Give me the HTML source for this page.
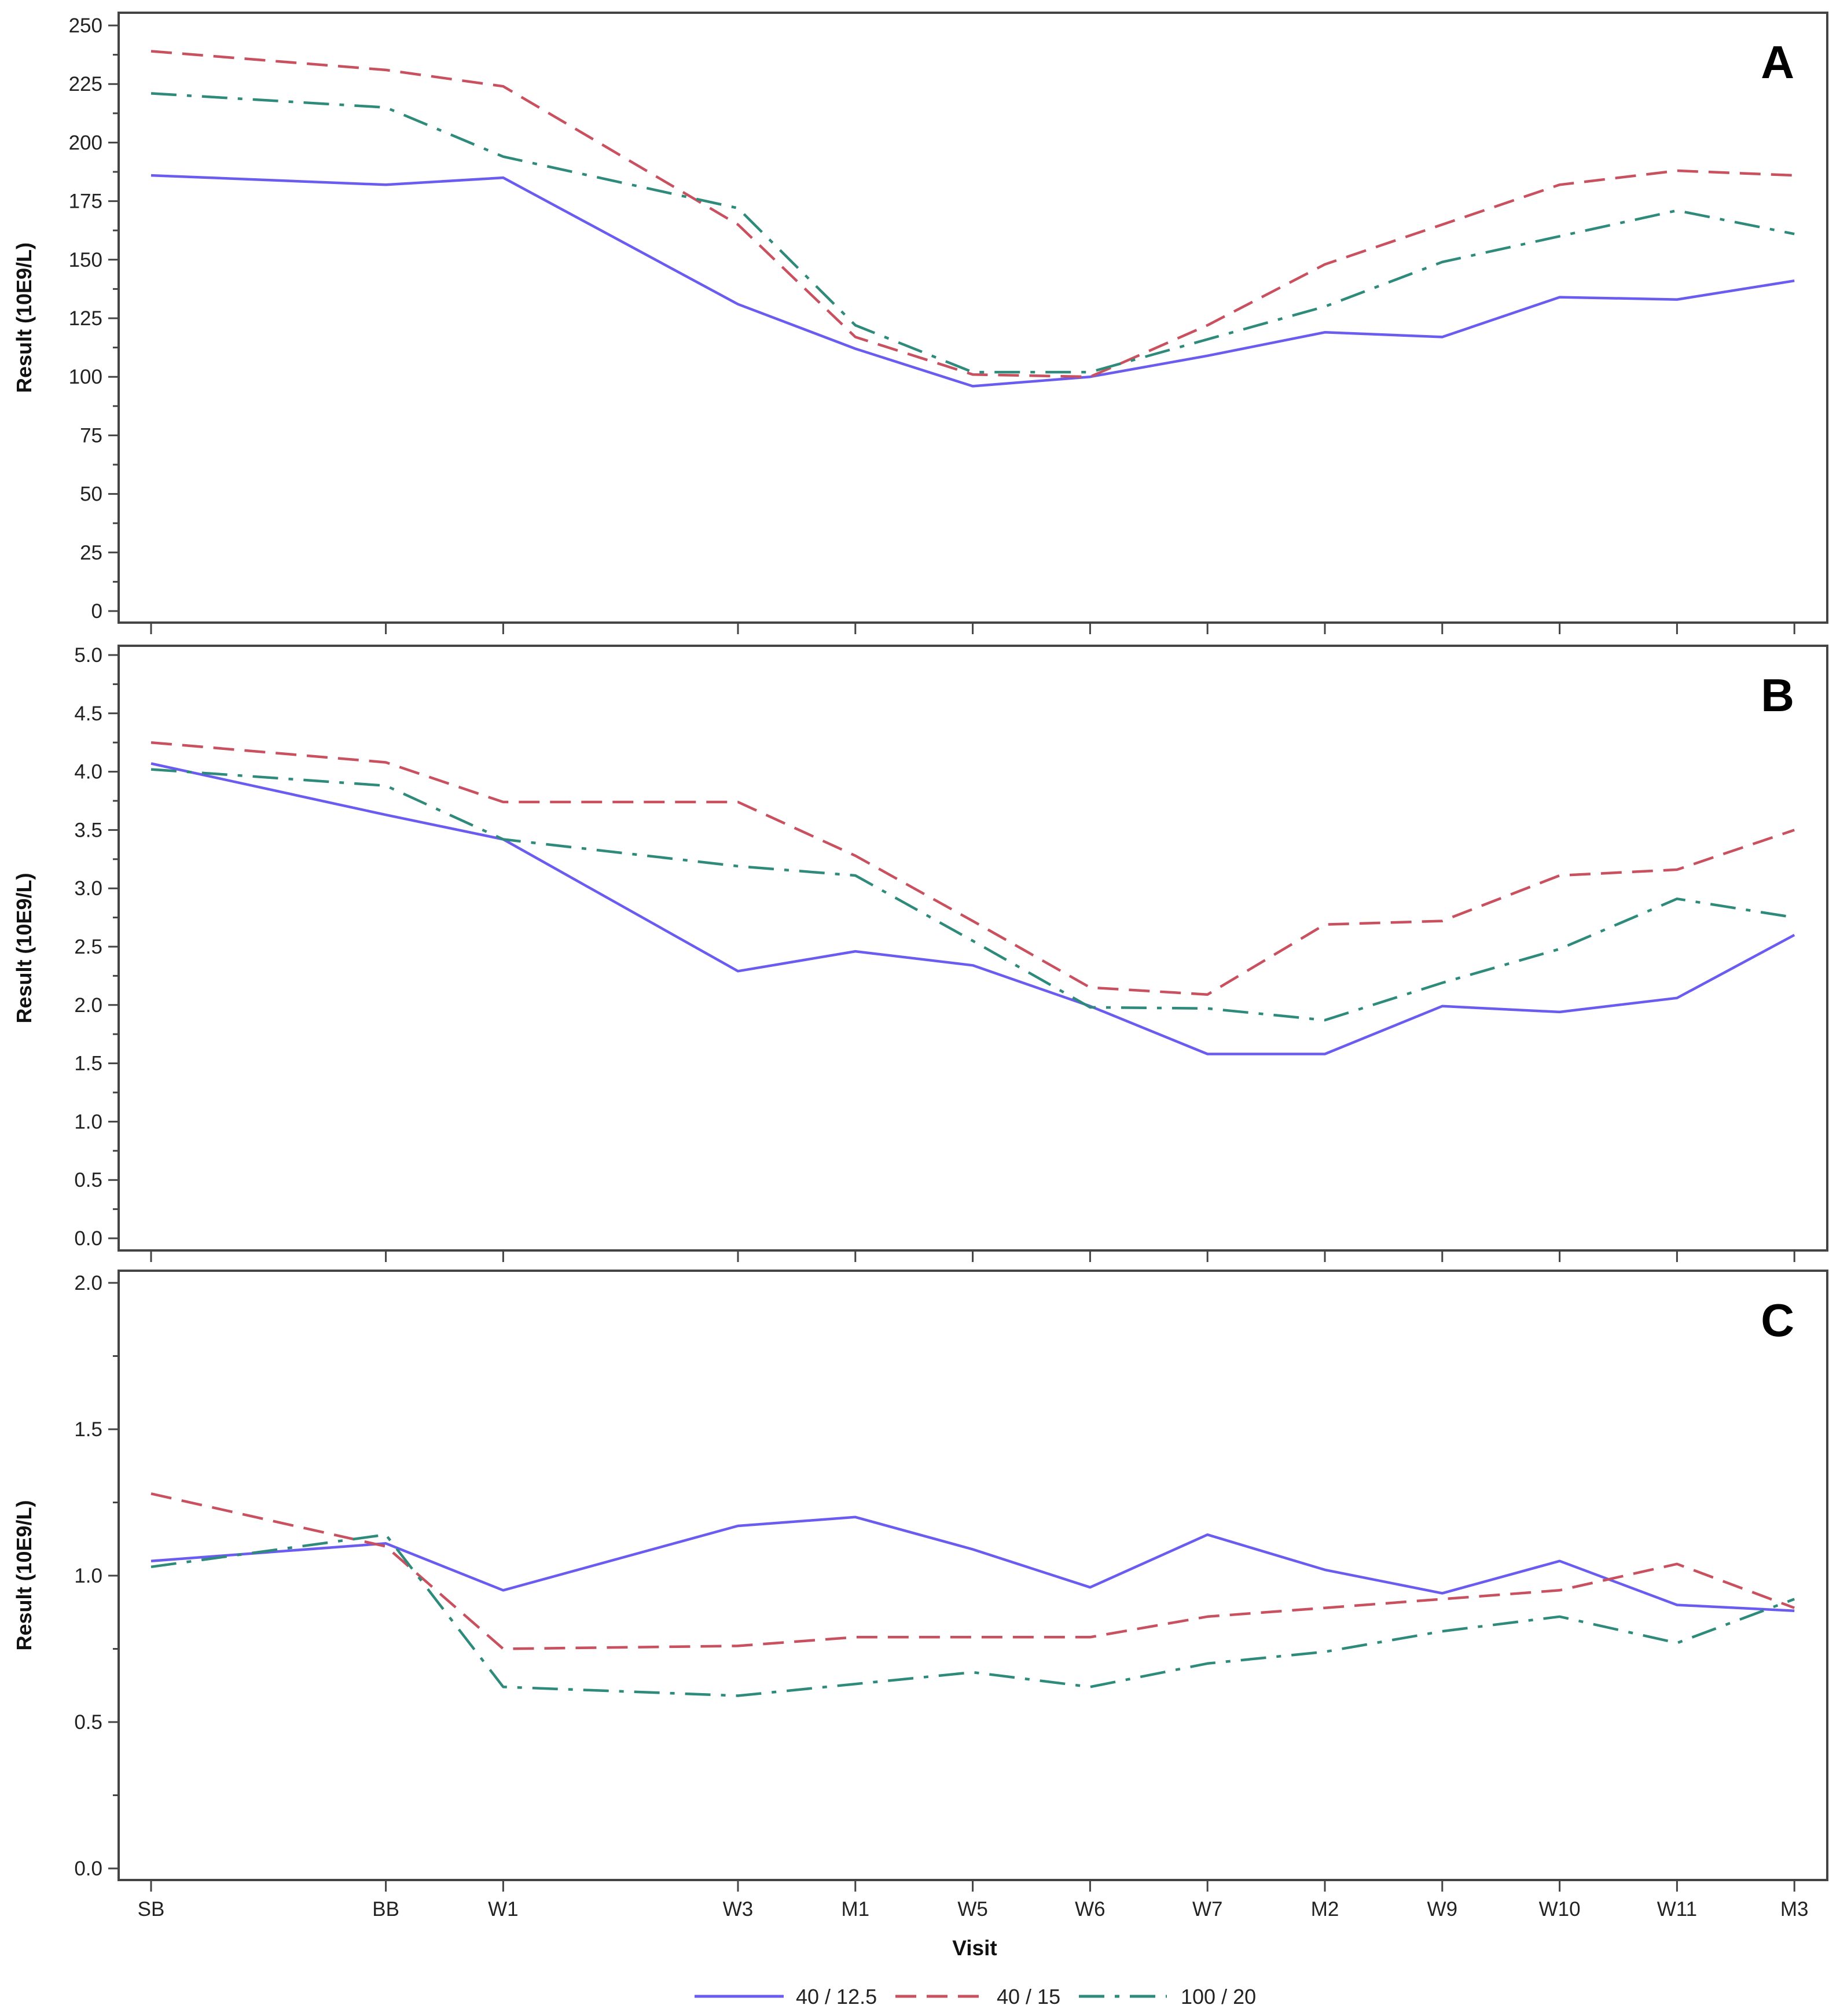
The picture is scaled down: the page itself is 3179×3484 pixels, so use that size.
<!DOCTYPE html>
<html><head><meta charset="utf-8"><style>
html,body{margin:0;padding:0;background:#fff;}
svg{display:block;font-family:"Liberation Sans",Arial,sans-serif;}
</style></head><body>
<svg id="chart" width="3179" height="3484" viewBox="0 0 3179 3484" xmlns="http://www.w3.org/2000/svg"></svg>
<script>
const categories = ["SB","BB","W1","W3","M1","W5","W6","W7","M2","W9","W10","W11","M3"];
const catPos = [0,2,3,5,6,7,8,9,10,11,12,13,14];
const seriesNames = ["40 / 12.5","40 / 15","100 / 20"];
const aBlue = [186,182,185,131,112,96,100,109,119,117,134,133,141];
const aRed = [239,231,224,165,117,101,100,122,148,165,182,188,186];
const aGreen = [221,215,194,172,122,102,102,116,130,149,160,171,161];
const bBlue = [4.07,3.63,3.42,2.29,2.46,2.34,1.99,1.58,1.58,1.99,1.94,2.06,2.60];
const bRed = [4.25,4.08,3.74,3.74,3.28,2.72,2.15,2.09,2.69,2.72,3.11,3.16,3.50];
const bGreen = [4.02,3.88,3.42,3.19,3.11,2.55,1.98,1.97,1.87,2.19,2.48,2.91,2.75];
const cBlue = [1.05,1.11,0.95,1.17,1.20,1.09,0.96,1.14,1.02,0.94,1.05,0.90,0.88];
const cRed = [1.28,1.10,0.75,0.76,0.79,0.79,0.79,0.86,0.89,0.92,0.95,1.04,0.89];
const cGreen = [1.03,1.14,0.62,0.59,0.63,0.67,0.62,0.70,0.74,0.81,0.86,0.77,0.92];
const aTicks = ["0","25","50","75","100","125","150","175","200","225","250"];
const bTicks = ["0.0","0.5","1.0","1.5","2.0","2.5","3.0","3.5","4.0","4.5","5.0"];
const cTicks = ["0.0","0.5","1.0","1.5","2.0"];

const NS="http://www.w3.org/2000/svg";
const svg=document.getElementById('chart');
function mk(tag,attrs,parent){const e=document.createElementNS(NS,tag);for(const k in attrs)e.setAttribute(k,attrs[k]);(parent||svg).appendChild(e);return e;}
const X0=261, XU=202.8, L=205, R=3157;
const xs=i=>X0+catPos[i]*XU;
const colors=["#6a5cf0","#c9505f","#2e8a7b"];
const dashes=["none","36 18","44 18 8 18"];

const panels=[
 {id:"a",letter:"A",top:22,bot:1076,y0:1056,yMax:44,max:250,ticks:aTicks,minor:12.5,step:25,data:[aBlue,aRed,aGreen]},
 {id:"b",letter:"B",top:1116,bot:2161,y0:2140,yMax:1132,max:5,ticks:bTicks,minor:0.25,step:0.5,data:[bBlue,bRed,bGreen]},
 {id:"c",letter:"C",top:2196,bot:3249,y0:3229,yMax:2217,max:2,ticks:cTicks,minor:0.25,step:0.5,data:[cBlue,cRed,cGreen]}
];
panels.forEach(p=>{
  const g=mk('g',{});
  
  
  const ys=v=>p.y0-(v/p.max)*(p.y0-p.yMax);
  const box=mk('rect',{x:L,y:p.top,width:R-L,height:p.bot-p.top,fill:'none',stroke:'#444',"stroke-width":4},g);
  
  
  p.ticks.forEach(t=>{
    const v=parseFloat(t), y=ys(v);
    const tk=mk('line',{x1:L-18,x2:L,y1:y,y2:y,stroke:'#444',"stroke-width":3},g);
    
    
    const tx=mk('text',{x:L-28,y:y+12,"text-anchor":"end","font-size":35,fill:'#222'},g);
    tx.textContent=t;
    
    
  });
  for(let v=p.minor; v<p.max; v+=p.step){
    const y=ys(v);
    const mt=mk('line',{x1:L-10,x2:L,y1:y,y2:y,stroke:'#444',"stroke-width":3},g);
    
    
  }
  categories.forEach((c,i)=>{
    const xt=mk('line',{x1:xs(i),x2:xs(i),y1:p.bot,y2:p.bot+20,stroke:'#444',"stroke-width":3},g);
    
    
  });
  const yt=mk('text',{x:0,y:0,transform:`translate(54,${(p.top+p.bot)/2}) rotate(-90)`,"text-anchor":"middle","font-size":36,"font-weight":"bold",fill:'#111'},g);
  yt.textContent="Result (10E9/L)";
  
  
  const lt=mk('text',{x:3100,y:p.top+113,"text-anchor":"end","font-size":80,"font-weight":"bold",fill:'#000'},g);
  lt.textContent=p.letter;
  
  
  p.data.forEach((arr,s)=>{
    const pts=arr.map((v,i)=>xs(i).toFixed(1)+','+ys(v).toFixed(1)).join(' ');
    const pl=mk('polyline',{points:pts,fill:'none',stroke:colors[s],"stroke-width":4.5,"stroke-dasharray":dashes[s],"stroke-linejoin":"round"},g);
    
    
  });
});
categories.forEach((c,i)=>{
  const t=mk('text',{x:xs(i),y:3311,"text-anchor":"middle","font-size":35,fill:'#222'});
  t.textContent=c;
  
  
});
const xt=mk('text',{x:1684,y:3379,"text-anchor":"middle","font-size":37,"font-weight":"bold",fill:'#111'});
xt.textContent="Visit";


const legX=[[1200,1354,1375],[1547,1692,1722],[1864,2016,2040]];
seriesNames.forEach((n,s)=>{
  const g=mk('g',{});
  
  
  mk('line',{x1:legX[s][0],x2:legX[s][1],y1:3450,y2:3450,stroke:colors[s],"stroke-width":5,"stroke-dasharray":dashes[s]},g);
  const t=mk('text',{x:legX[s][2],y:3463,"font-size":36,fill:'#222'},g);
  t.textContent=n;
});
</script>
</body></html>
